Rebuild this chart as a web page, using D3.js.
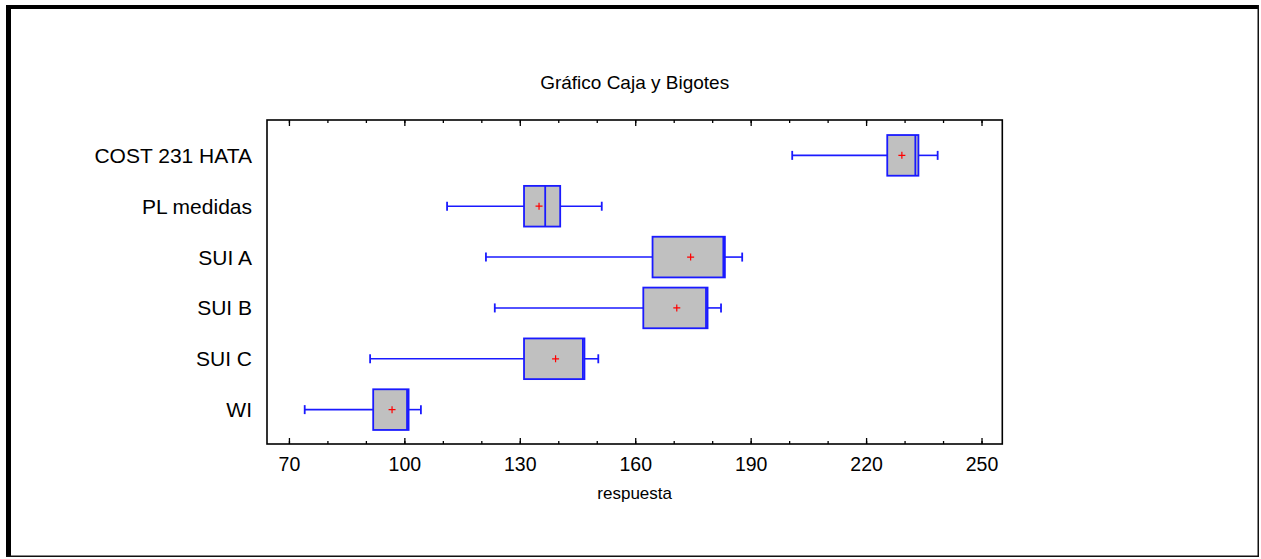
<!DOCTYPE html>
<html>
<head>
<meta charset="utf-8">
<script src="https://cdn.jsdelivr.net/npm/d3@7"></script>
<style>
  html, body { margin: 0; padding: 0; background: #fff; }
  svg { display: block; }
  text { font-family: Arial, "Liberation Sans", sans-serif; fill: #000; }
</style>
</head>
<body>
<svg id="chart" width="1261" height="559"></svg>
<script>
// Box-and-whisker summary per propagation model
const categories = ["COST 231 HATA", "PL medidas", "SUI A", "SUI B", "SUI C", "WI"];
const minVals    = [200.8, 111.1, 121.2, 123.5,  91.1,  74.1];
const q1Vals     = [225.5, 131.1, 164.5, 162.1, 131.1,  91.9];
const medianVals = [232.8, 136.6, 182.9, 178.4, 146.4, 100.7];
const q3Vals     = [233.6, 140.5, 183.3, 178.8, 146.8, 101.1];
const maxVals    = [238.6, 151.3, 187.8, 182.3, 150.4, 104.3];
const meanVals   = [229.3, 135.0, 174.4, 170.8, 139.3,  96.8];
const xTicks     = [70, 100, 130, 160, 190, 220, 250];
const xMinorTicks = d3.range(70, 251, 10);

const titleText = "Gráfico Caja y Bigotes";
const xTitle = "respuesta";

const svg = d3.select("#chart");

// Outer frame: heavy top/left edges, light right/bottom edges
svg.append("rect").attr("x", 6).attr("y", 5).attr("width", 1253).attr("height", 4).attr("fill", "#000");
svg.append("rect").attr("x", 6).attr("y", 5).attr("width", 5).attr("height", 552).attr("fill", "#000");
svg.append("rect").attr("x", 1257.5).attr("y", 5).attr("width", 1.5).attr("height", 552).attr("fill", "#111");
svg.append("rect").attr("x", 6).attr("y", 555.5).attr("width", 1253).attr("height", 1.5).attr("fill", "#111");

const plot = { left: 267, right: 1002.3, top: 120, bottom: 444 };

const x = d3.scaleLinear().domain([64.3, 255.4]).range([plot.left, plot.right]);
const y = d3.scalePoint().domain(categories).range([plot.top + 1, plot.bottom]).padding(0.676);

// Title
svg.append("text")
  .attr("x", (plot.left + plot.right) / 2)
  .attr("y", 89)
  .attr("text-anchor", "middle")
  .style("font-size", "19px")
  .text(titleText);

// Bottom axis: major ticks with labels, minor ticks in between
const bottomMinor = svg.append("g").attr("transform", `translate(0,${plot.bottom})`)
  .call(d3.axisBottom(x).tickValues(xMinorTicks).tickSizeInner(-3).tickSizeOuter(0).tickFormat(""));
const bottomMajor = svg.append("g").attr("transform", `translate(0,${plot.bottom})`)
  .call(d3.axisBottom(x).tickValues(xTicks).tickSizeInner(-6).tickSizeOuter(0));
bottomMajor.selectAll(".tick text")
  .attr("y", 27).attr("dy", null)
  .style("font-size", "19.5px")
  .style("font-family", "Arial, 'Liberation Sans', sans-serif");

// Top axis: ticks only
const topMinor = svg.append("g").attr("transform", `translate(0,${plot.top})`)
  .call(d3.axisTop(x).tickValues(xMinorTicks).tickSizeInner(-3).tickSizeOuter(0).tickFormat(""));
const topMajor = svg.append("g").attr("transform", `translate(0,${plot.top})`)
  .call(d3.axisTop(x).tickValues(xTicks).tickSizeInner(-6).tickSizeOuter(0).tickFormat(""));

[bottomMinor, bottomMajor, topMinor, topMajor].forEach(g => {
  g.select(".domain").remove();
  g.selectAll(".tick line").attr("stroke", "#000").attr("stroke-width", 1.3);
});

// Plot frame
svg.append("rect")
  .attr("x", plot.left).attr("y", plot.top)
  .attr("width", plot.right - plot.left).attr("height", plot.bottom - plot.top)
  .attr("fill", "none").attr("stroke", "#000").attr("stroke-width", 1.6);

// Category labels
svg.append("g").selectAll("text")
  .data(categories)
  .join("text")
  .attr("x", 252)
  .attr("y", d => y(d) + 7.5)
  .attr("text-anchor", "end")
  .style("font-size", "21px")
  .text(d => d);

// X axis title
svg.append("text")
  .attr("x", (plot.left + plot.right) / 2)
  .attr("y", 499)
  .attr("text-anchor", "middle")
  .style("font-size", "17px")
  .text(xTitle);

// Boxes
const boxH = y.step() * 0.8;
const capH = 9;
const blue = "#1a1aff";

const rows = categories.map((c, i) => ({
  cat: c, min: minVals[i], q1: q1Vals[i], med: medianVals[i],
  q3: q3Vals[i], max: maxVals[i], mean: meanVals[i]
}));

const g = svg.append("g");
const row = g.selectAll("g.row").data(rows).join("g").attr("class", "row");

// whiskers
row.append("line")
  .attr("x1", d => x(d.min)).attr("x2", d => x(d.q1))
  .attr("y1", d => y(d.cat)).attr("y2", d => y(d.cat))
  .attr("stroke", blue).attr("stroke-width", 1.6);
row.append("line")
  .attr("x1", d => x(d.q3)).attr("x2", d => x(d.max))
  .attr("y1", d => y(d.cat)).attr("y2", d => y(d.cat))
  .attr("stroke", blue).attr("stroke-width", 1.6);
// caps
row.append("line")
  .attr("x1", d => x(d.min)).attr("x2", d => x(d.min))
  .attr("y1", d => y(d.cat) - capH / 2).attr("y2", d => y(d.cat) + capH / 2)
  .attr("stroke", blue).attr("stroke-width", 1.8);
row.append("line")
  .attr("x1", d => x(d.max)).attr("x2", d => x(d.max))
  .attr("y1", d => y(d.cat) - capH / 2).attr("y2", d => y(d.cat) + capH / 2)
  .attr("stroke", blue).attr("stroke-width", 1.8);
// box
row.append("rect")
  .attr("x", d => x(d.q1)).attr("width", d => x(d.q3) - x(d.q1))
  .attr("y", d => y(d.cat) - boxH / 2).attr("height", boxH)
  .attr("fill", "#c0c0c0").attr("stroke", blue).attr("stroke-width", 1.8);
// median
row.append("line")
  .attr("x1", d => x(d.med)).attr("x2", d => x(d.med))
  .attr("y1", d => y(d.cat) - boxH / 2).attr("y2", d => y(d.cat) + boxH / 2)
  .attr("stroke", blue).attr("stroke-width", 1.8);
// mean marker
const ms = 3.5;
row.append("path")
  .attr("d", d => {
    const cx = x(d.mean), cy = y(d.cat);
    return `M${cx - ms},${cy}H${cx + ms}M${cx},${cy - ms}V${cy + ms}`;
  })
  .attr("stroke", "#ff0000").attr("stroke-width", 1.2).attr("fill", "none");
</script>
</body>
</html>
